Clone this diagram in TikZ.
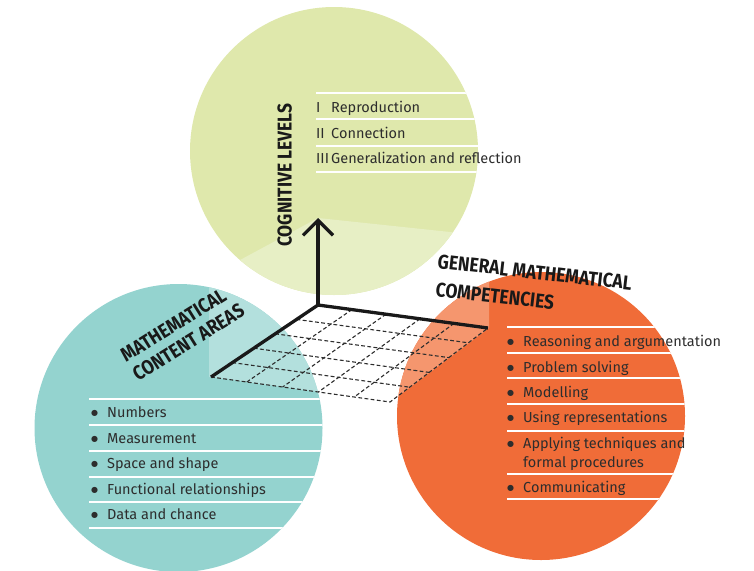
\documentclass[tikz,border=0pt]{standalone}
\usepackage{fontspec}
\setmainfont{Fira Sans}
\newfontfamily\headfont{Fira Sans}[FakeStretch=0.87]
\newfontfamily\symfont{DejaVu Sans}
\usetikzlibrary{calc,arrows.meta}

\definecolor{cgreen}{RGB}{223,232,172}
\definecolor{cgreenlt}{RGB}{231,239,197}
\definecolor{cteal}{RGB}{148,211,207}
\definecolor{ctealft}{RGB}{179,224,221}
\definecolor{corange}{RGB}{240,108,56}
\definecolor{corangelt}{RGB}{245,150,110}
\definecolor{ink}{RGB}{45,45,45}
\definecolor{axisink}{RGB}{25,25,25}

\tikzset{
  sepline/.style={white, line width=1.3pt},
  gridline/.style={dash pattern=on 3.8pt off 2.4pt, line width=1.1pt, color=ink},
  axisline/.style={line width=3.3pt, color=axisink, line join=round},
  head/.style={font=\headfont\bfseries\fontsize{20}{22}\selectfont, text=axisink, inner sep=0pt},
  item/.style={font=\fontsize{14.5}{17}\selectfont, text=ink, inner sep=0pt, anchor=base west},
}

\newcommand{\bul}[1]{\makebox[16pt][l]{\raisebox{1.4pt}{\symfont\fontsize{8}{8}\selectfont ●}}#1}
\newcommand{\lvl}[2]{\makebox[15pt][l]{#1}#2}

\begin{document}
\begin{tikzpicture}[x=1pt,y=-1pt]
\useasboundingbox (0,0) rectangle (754,570);

% axis points
\coordinate (O) at (318,305);
\coordinate (A) at (211,377);
\coordinate (B) at (488,328);
\coordinate (C) at (390,402);
\coordinate (T) at (318,218);

% cognitive levels disc
\fill[cgreen] (334,151) circle[radius=144];
\begin{scope}
  \clip (334,151) circle[radius=144];
  \fill[cgreenlt] (150,308) -- (240,260) -- (T) -- (450,232) -- (560,244)
        -- (560,320) -- (150,320) -- cycle;
  \foreach \yy in {93,119,146,172} \draw[sepline] (316,\yy) -- (490,\yy);
\end{scope}

% content areas disc
\fill[cteal] (178.5,428) circle[radius=144];
\begin{scope}
  \clip (178.5,428) circle[radius=144];
  \fill[ctealft] (209,270) -- (209,377) -- (A) -- (420,406) -- (420,270) -- cycle;
  \foreach \yy in {399,425,451,477,502,528} \draw[sepline] (89,\yy) -- (330,\yy);
\end{scope}

% competencies disc
\fill[corange] (541,416) circle[radius=144];
\begin{scope}
  \clip (541,416) circle[radius=144];
  \fill[corangelt] (489,260) -- (489,328) -- (380,410) -- (380,260) -- cycle;
  \foreach \yy in {327,353,378,404,431,474,499} \draw[sepline] (507,\yy) -- (690,\yy);
\end{scope}

% dashed grid on the base plane
\foreach \i in {1,...,4} {
  \draw[gridline] ($(O)!\i/5!(A)$) -- ($(B)!\i/5!(C)$);
  \draw[gridline] ($(O)!\i/5!(B)$) -- ($(A)!\i/5!(C)$);
}
\draw[gridline] (A) -- (C) -- (B);

% axes
\draw[axisline] (A) -- (O) -- (B);
\draw[axisline, -{Straight Barb[length=15pt,width=30pt]}] (O) -- (T);

% headings
\node[head, rotate=90, anchor=base west] (cog) at (291.5,247) {COGNITIVE LEVELS};
\node[head, rotate=32, anchor=base west] (mca1) at (126,363) {MATHEMATICAL};
\node[head, rotate=32, anchor=base west] (mca2) at (138,382) {CONTENT AREAS};
\node[head, rotate=-6.5, anchor=base west] (gmc1) at (437,268) {GENERAL MATHEMATICAL};
\node[head, rotate=-6.5, anchor=base west] (gmc2) at (435,296) {COMPETENCIES};

% cognitive levels
\node[item] (lv1) at (316,112.5) {\lvl{I}{Reproduction}};
\node[item] (lv2) at (316,138) {\lvl{II}{Connection}};
\node[item] (lv3) at (316,163.5) {\lvl{III}{Generalization and reflection}};

% content areas
\node[item] (ca1) at (91,417) {\bul{Numbers}};
\node[item] (ca2) at (91,443) {\bul{Measurement}};
\node[item] (ca3) at (91,468) {\bul{Space and shape}};
\node[item] (ca4) at (91,494) {\bul{Functional relationships}};
\node[item] (ca5) at (91,519) {\bul{Data and chance}};

% competencies
\node[item] (gc1) at (507,346) {\bul{Reasoning and argumentation}};
\node[item] (gc2) at (507,372) {\bul{Problem solving}};
\node[item] (gc3) at (507,397) {\bul{Modelling}};
\node[item] (gc4) at (507,422) {\bul{Using representations}};
\node[item] (gc5) at (507,448) {\bul{Applying techniques and}};
\node[item] (gc5b) at (523,467) {formal procedures};
\node[item] (gc6) at (507,492) {\bul{Communicating}};
\end{tikzpicture}
\end{document}
